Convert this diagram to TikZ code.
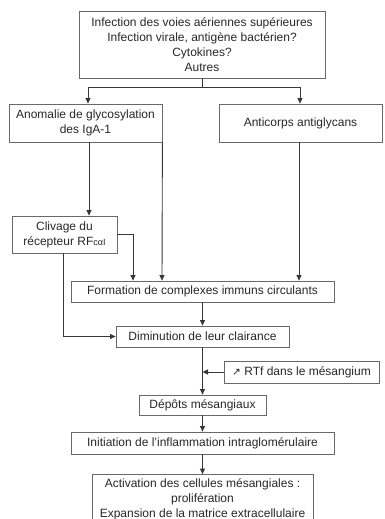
\documentclass[tikz,border=0pt]{standalone}
\usepackage{fontspec}
\setmainfont{Liberation Sans}
\newfontfamily\symbfont{DejaVu Sans}
\usepackage{tikz}
\usetikzlibrary{arrows.meta, positioning}
\definecolor{boxgray}{RGB}{105,105,105}
\definecolor{linegray}{RGB}{55,55,55}
\definecolor{txtgray}{RGB}{40,40,40}

\begin{document}
\begin{tikzpicture}[
    x=1pt, y=-1pt,
    box/.style={rectangle, draw=boxgray, fill=white, line width=0.8pt, inner sep=0pt, align=center, text=txtgray, font=\fontsize{12}{14.8}\selectfont},
    arrow/.style={-{Triangle[length=5.5pt, width=5pt]}, line width=0.9pt, linegray}
]
    \useasboundingbox (0,0) rectangle (385,519);
    \clip (0,0) rectangle (385,519);

    % Trigger
    \node[box, minimum width=246, minimum height=67] (infect) at (202,44.5) {Infection des voies aériennes supérieures\\Infection virale, antigène bactérien?\\Cytokines?\\Autres};

    % Two branches
    \node[box, minimum width=153, minimum height=38] (anomalie) at (85.5,123) {Anomalie de glycosylation\\des IgA-1};
    \node[box, minimum width=163, minimum height=38] (anticorps) at (300.5,123) {Anticorps antiglycans};
    \draw[arrow] (infect.south) -- ++(0,9) -| ([xshift=2.5]anomalie.north);
    \draw[arrow] (infect.south) -- ++(0,9) -| ([xshift=-0.5]anticorps.north);

    % Receptor cleavage
    \node[box, minimum width=105, minimum height=37] (clivage) at (64.5,234.5) {Clivage du\\récepteur RF{\fontsize{9}{9}\selectfont cαI}};
    \draw[arrow] ([xshift=3.5]anomalie.south) -- ([xshift=24.5]clivage.north);

    % Immune complexes
    \node[box, minimum width=263, minimum height=21] (formation) at (202.5,291.5) {Formation de complexes immuns circulants};
    \draw[arrow] (anomalie.south east) -- ([xshift=-40.5]formation.north);
    \draw[arrow] ([xshift=-1.5]anticorps.south) -- ([xshift=96.5]formation.north);
    \draw[arrow] (clivage.east) -| ([xshift=-69.5]formation.north);

    % Clearance
    \node[box, minimum width=173, minimum height=21] (diminution) at (202.5,336.5) {Diminution de leur clairance};
    \draw[arrow] (formation) -- (diminution);
    \draw[arrow] ([xshift=-1.5]clivage.south) |- (diminution.west);

    % Mesangial deposits
    \node[box, minimum width=155, minimum height=22] (rtf) at (301.5,372) {{\symbfont\fontsize{10.5}{10}\selectfont ↗} RTf dans le mésangium};
    \node[box, minimum width=127, minimum height=20] (depots) at (202.5,405) {Dépôts mésangiaux};
    \draw[arrow] (diminution) -- (depots);
    \draw[arrow] (rtf.west) -- (rtf.west -| diminution.south);

    % Inflammation
    \node[box, minimum width=263, minimum height=22] (initiation) at (202.5,443) {Initiation de l’inflammation intraglomérulaire};
    \draw[arrow] (depots) -- (initiation);

    \node[box, minimum width=221, minimum height=50] (activation) at (202.5,499.5) {Activation des cellules mésangiales :\\prolifération\\Expansion de la matrice extracellulaire};
    \draw[arrow] (initiation) -- (activation);
\end{tikzpicture}
\end{document}
